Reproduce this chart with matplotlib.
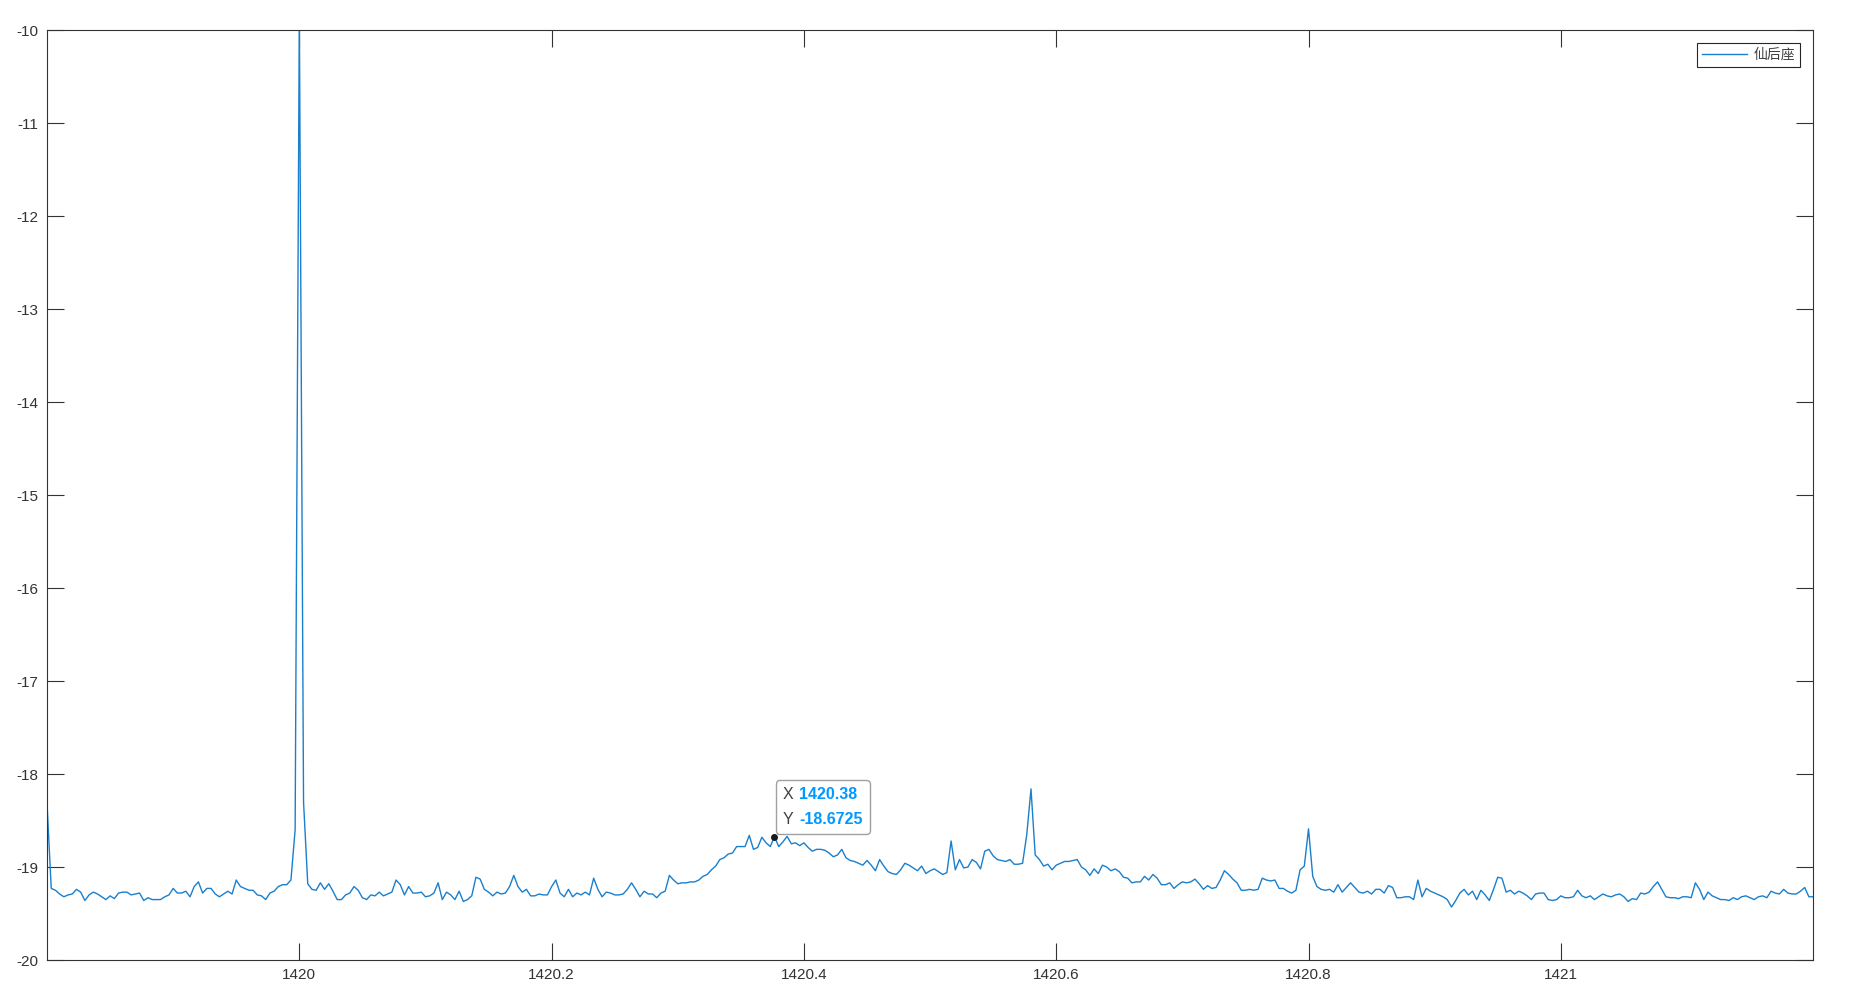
import numpy as np
import matplotlib.pyplot as plt
from matplotlib.offsetbox import TextArea, HPacker, VPacker, AnnotationBbox

plt.rcParams['font.family'] = ['Liberation Sans', 'Noto Sans CJK SC', 'DejaVu Sans']
plt.rcParams['axes.unicode_minus'] = False

# spectrum, sampled every 1/300 MHz from 1419.8 to 1421.2
freq_start = 1419.8
freq_stop = 1421.2
power = [
    -18.32, -19.23, -19.25, -19.29, -19.32, -19.30, -19.29, -19.24, -19.27, -19.36,
    -19.30, -19.27, -19.29, -19.32, -19.35, -19.31, -19.34, -19.28, -19.27, -19.27,
    -19.30, -19.29, -19.28, -19.36, -19.33, -19.35, -19.35, -19.35, -19.32, -19.30,
    -19.23, -19.28, -19.28, -19.26, -19.32, -19.21, -19.16, -19.28, -19.23, -19.23,
    -19.29, -19.32, -19.29, -19.26, -19.29, -19.14, -19.21, -19.23, -19.25, -19.25,
    -19.30, -19.31, -19.35, -19.28, -19.26, -19.21, -19.19, -19.19, -19.14, -18.60,
    -9.80, -18.30, -19.18, -19.24, -19.25, -19.17, -19.24, -19.18, -19.26, -19.35,
    -19.35, -19.30, -19.28, -19.21, -19.25, -19.33, -19.35, -19.30, -19.31, -19.27,
    -19.31, -19.29, -19.27, -19.14, -19.19, -19.30, -19.21, -19.28, -19.28, -19.27,
    -19.32, -19.31, -19.28, -19.17, -19.35, -19.27, -19.30, -19.35, -19.26, -19.37,
    -19.35, -19.31, -19.11, -19.13, -19.24, -19.27, -19.31, -19.27, -19.29, -19.28,
    -19.21, -19.09, -19.21, -19.27, -19.24, -19.31, -19.31, -19.29, -19.30, -19.30,
    -19.21, -19.14, -19.28, -19.32, -19.24, -19.32, -19.28, -19.30, -19.27, -19.30,
    -19.12, -19.24, -19.32, -19.27, -19.28, -19.30, -19.30, -19.29, -19.24, -19.17,
    -19.24, -19.32, -19.26, -19.29, -19.29, -19.33, -19.28, -19.26, -19.09, -19.14,
    -19.18, -19.17, -19.17, -19.16, -19.16, -19.14, -19.10, -19.08, -19.03, -18.99,
    -18.92, -18.90, -18.86, -18.85, -18.78, -18.78, -18.78, -18.66, -18.81, -18.79,
    -18.68, -18.74, -18.78, -18.6725, -18.78, -18.73, -18.67, -18.75, -18.74, -18.77,
    -18.74, -18.79, -18.83, -18.81, -18.81, -18.82, -18.85, -18.89, -18.87, -18.81,
    -18.90, -18.93, -18.94, -18.96, -18.98, -18.93, -18.98, -19.04, -18.92, -18.99,
    -19.05, -19.07, -19.08, -19.03, -18.96, -18.98, -19.01, -19.04, -18.99, -19.07,
    -19.04, -19.02, -19.05, -19.08, -19.06, -18.72, -19.03, -18.92, -19.01, -19.00,
    -18.92, -18.95, -19.02, -18.83, -18.81, -18.88, -18.92, -18.93, -18.94, -18.92,
    -18.97, -18.97, -18.96, -18.65, -18.16, -18.87, -18.92, -18.99, -18.97, -19.03,
    -18.98, -18.96, -18.94, -18.94, -18.93, -18.92, -19.00, -19.03, -19.09, -19.02,
    -19.07, -18.98, -19.00, -19.04, -19.02, -19.05, -19.11, -19.12, -19.17, -19.16,
    -19.16, -19.10, -19.14, -19.08, -19.12, -19.19, -19.19, -19.17, -19.23, -19.19,
    -19.16, -19.17, -19.16, -19.13, -19.18, -19.24, -19.20, -19.23, -19.22, -19.14,
    -19.04, -19.08, -19.13, -19.17, -19.25, -19.25, -19.24, -19.25, -19.24, -19.12,
    -19.14, -19.15, -19.14, -19.23, -19.23, -19.26, -19.28, -19.25, -19.03, -18.99,
    -18.59, -19.10, -19.21, -19.24, -19.25, -19.24, -19.27, -19.19, -19.27, -19.22,
    -19.17, -19.22, -19.27, -19.28, -19.26, -19.29, -19.24, -19.24, -19.28, -19.20,
    -19.22, -19.33, -19.33, -19.32, -19.32, -19.35, -19.14, -19.32, -19.23, -19.26,
    -19.28, -19.30, -19.32, -19.35, -19.43, -19.36, -19.28, -19.24, -19.30, -19.26,
    -19.35, -19.25, -19.30, -19.36, -19.24, -19.11, -19.12, -19.27, -19.25, -19.29,
    -19.26, -19.28, -19.31, -19.35, -19.29, -19.28, -19.28, -19.35, -19.36, -19.35,
    -19.31, -19.33, -19.33, -19.32, -19.25, -19.31, -19.33, -19.31, -19.35, -19.32,
    -19.29, -19.31, -19.32, -19.30, -19.29, -19.32, -19.37, -19.34, -19.35, -19.28,
    -19.29, -19.27, -19.21, -19.16, -19.24, -19.32, -19.33, -19.33, -19.34, -19.32,
    -19.32, -19.33, -19.17, -19.24, -19.35, -19.27, -19.31, -19.33, -19.35, -19.35,
    -19.36, -19.33, -19.35, -19.32, -19.31, -19.33, -19.35, -19.32, -19.31, -19.33,
    -19.26, -19.28, -19.29, -19.24, -19.28, -19.29, -19.29, -19.26, -19.22, -19.32,
    -19.32,
]
freq = np.linspace(freq_start, freq_stop, len(power))

series_name = '仙后座'
x_ticks = [1420, 1420.2, 1420.4, 1420.6, 1420.8, 1421]
x_tick_labels = ['1420', '1420.2', '1420.4', '1420.6', '1420.8', '1421']
y_ticks = list(range(-20, -9))
tip_index = 173

fig = plt.figure(figsize=(18.52, 10.08), dpi=100)
ax = fig.add_axes([0.0254, 0.0476, 0.9536, 0.9226])

ax.plot(freq, power, color='#1a7fcc', lw=1.0, label=series_name)
ax.set_xlim(freq_start, freq_stop)
ax.set_ylim(-20, -10)
ax.set_xticks(x_ticks)
ax.set_xticklabels(x_tick_labels)
ax.set_yticks(y_ticks)
ax.set_yticklabels([str(v) for v in y_ticks])
ax.tick_params(direction='in', length=12, width=0.8, top=True, right=True,
               labelsize=11, colors='#333333', pad=6)
for s in ax.spines.values():
    s.set_color('#333333')
    s.set_linewidth(0.8)

leg = ax.legend(loc='upper right', bbox_to_anchor=(1 - 13 / 1766, 1 - 13 / 930),
                borderaxespad=0, fancybox=False, edgecolor='#262626',
                framealpha=1, handlelength=3.2, handletextpad=0.5,
                borderpad=0.35, prop={'family': ['Noto Sans CJK SC'], 'size': 10})
leg.get_frame().set_linewidth(0.8)
for t in leg.get_texts():
    t.set_color('#404040')

# data tip
tx, ty = freq[tip_index], power[tip_index]
ax.plot(tx, ty, 'o', ms=4, mfc='#1a1a1a', mec='#1a1a1a', zorder=7)
lab = dict(color='#404040', fontsize=11.5)
val = dict(color='#0099FF', fontsize=11.5, fontweight='bold')
row_x = HPacker(children=[TextArea('X', textprops=lab),
                          TextArea(f'{tx:.2f}', textprops=val)], sep=4, pad=0)
row_y = HPacker(children=[TextArea('Y', textprops=lab),
                          TextArea(f'{ty:.4f}', textprops=val)], sep=4, pad=0)
tip = VPacker(children=[row_x, row_y], sep=7, pad=0, align='left')
ab = AnnotationBbox(tip, (tx, ty), xybox=(6, 7), boxcoords='offset points',
                    box_alignment=(0, 0), frameon=True, pad=0.45,
                    bboxprops=dict(boxstyle='round,pad=0.5,rounding_size=0.25',
                                   ec='#a0a0a0', fc='white', lw=1.0))
ab.set_zorder(6)
ax.add_artist(ab)

fig.savefig('out.png', dpi=100)
